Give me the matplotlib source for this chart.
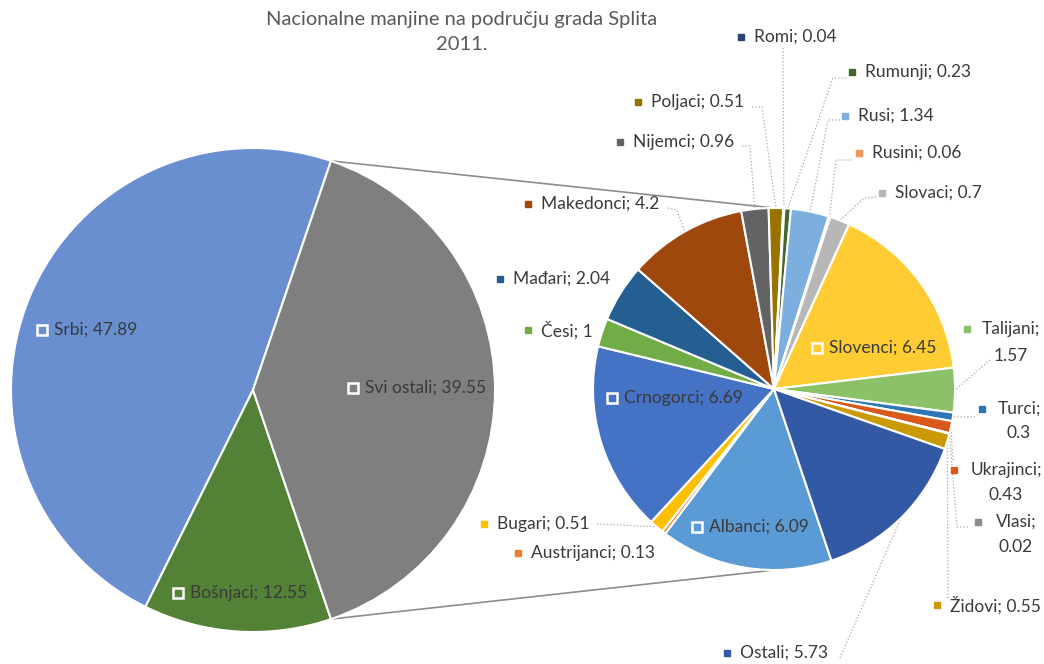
import numpy as np
import matplotlib
matplotlib.use('Agg')
import matplotlib.pyplot as plt

plt.rcParams['font.family'] = ['Lato', 'DejaVu Sans']

# main pie
names1 = ['Srbi', 'Bošnjaci', 'Svi ostali']
vals1 = [47.89, 12.55, 39.55]
colors1 = ['#6A8FD0', '#538135', '#7F7F7F']

# second pie (breakdown of "Svi ostali")
names2 = ['Albanci', 'Austrijanci', 'Bugari', 'Crnogorci', 'Česi', 'Mađari',
          'Makedonci', 'Nijemci', 'Poljaci', 'Romi', 'Rumunji', 'Rusi',
          'Rusini', 'Slovaci', 'Slovenci', 'Talijani', 'Turci', 'Ukrajinci',
          'Vlasi', 'Židovi', 'Ostali']
vals2 = [6.09, 0.13, 0.51, 6.69, 1, 2.04, 4.2, 0.96, 0.51, 0.04, 0.23, 1.34,
         0.06, 0.7, 6.45, 1.57, 0.3, 0.43, 0.02, 0.55, 5.73]
colors2 = ['#5B9BD5', '#ED7D31', '#FFC000', '#4472C4', '#70AD47', '#255E91',
           '#9E480E', '#636363', '#997300', '#264478', '#43682B', '#7CAFDD',
           '#F1975A', '#B7B7B7', '#FFCD33', '#8CC168', '#2E75B6', '#D9591C',
           '#8C8C8C', '#C99A06', '#3358A4']

W, H = 1044, 664


def Y(y):
    return H - y


fig = plt.figure(figsize=(W / 100, H / 100), dpi=100)
ax = fig.add_axes([0, 0, 1, 1])

c1, r1 = (253, Y(390)), 242
c2, r2 = (774, Y(389)), 181
wp = dict(edgecolor='white', linewidth=1.5)

start1 = vals1[2] / sum(vals1) * 180
w1, _ = ax.pie(vals1, colors=colors1, center=c1, radius=r1,
               startangle=start1, counterclock=True, wedgeprops=wp, frame=True)
w2, _ = ax.pie(vals2, colors=colors2, center=c2, radius=r2,
               startangle=-71.5, counterclock=False, wedgeprops=wp, frame=True)

ax.set_xlim(0, W)
ax.set_ylim(0, H)
ax.axis('off')

# connector lines between the pies
a_top = np.radians(w1[2].theta2)
a_bot = np.radians(w1[2].theta1)
ax.plot([c1[0] + r1 * np.cos(a_top), c2[0]], [c1[1] + r1 * np.sin(a_top), c2[1] + r2],
        color='#8C8C8C', lw=1.2, zorder=0)
ax.plot([c1[0] + r1 * np.cos(a_bot), c2[0]], [c1[1] + r1 * np.sin(a_bot), c2[1] - r2],
        color='#8C8C8C', lw=1.2, zorder=0)

txt = '#3A3A3A'
fs = 12.5


def label_text(name, val):
    return f'{name}; {val:g}'


# labels inside slices (square key with white border)
inner = {
    'Srbi': (42, 330), 'Bošnjaci': (178, 593), 'Svi ostali': (353, 388),
    'Slovenci': (817, 348), 'Crnogorci': (612, 398), 'Albanci': (697, 527),
}
for name, (x, y) in inner.items():
    if name in names1:
        i = names1.index(name)
        val, col = vals1[i], colors1[i]
    else:
        i = names2.index(name)
        val, col = vals2[i], colors2[i]
    ax.plot([x], [Y(y)], marker='s', ms=7, mfc=col, mec='white', mew=1.8, ls='none')
    ax.text(x + 12, Y(y), label_text(name, val), ha='left', va='center',
            fontsize=fs, color=txt)

# outside labels: square x, y
outer = {
    'Romi': (741, 37), 'Rumunji': (852, 72), 'Poljaci': (638, 102),
    'Rusi': (845, 116), 'Nijemci': (620, 142), 'Rusini': (859, 153),
    'Slovaci': (882, 193), 'Makedonci': (528, 204), 'Mađari': (500, 279),
    'Česi': (528, 330), 'Židovi': (937, 605), 'Ostali': (727, 653),
    'Bugari': (484, 524), 'Austrijanci': (518, 553),
}
for name, (x, y) in outer.items():
    i = names2.index(name)
    ax.plot([x], [Y(y)], marker='s', ms=4.3, color=colors2[i], ls='none')
    ax.text(x + 13, Y(y), label_text(name, vals2[i]), ha='left', va='center',
            fontsize=fs, color=txt)

# two-line labels on the right: square x, line1 y, text centre x, line2 y
twoline = {
    'Talijani': (967, 329, 1011, 356), 'Turci': (982, 409, 1019, 433),
    'Ukrajinci': (954, 470, 1006, 495), 'Vlasi': (978, 522, 1016, 547),
}
for name, (x, y1, xc, y2) in twoline.items():
    i = names2.index(name)
    ax.plot([x], [Y(y1)], marker='s', ms=4.3, color=colors2[i], ls='none')
    ax.text(xc, Y(y1), f'{name};', ha='center', va='center', fontsize=fs, color=txt)
    ax.text(xc, Y(y2), f'{vals2[i]:g}', ha='center', va='center', fontsize=fs, color=txt)

# leader lines: start points near the label, end at the slice edge
leaders = {
    'Romi': [(783, 48)], 'Rumunji': [(846, 78), (833, 78)],
    'Poljaci': [(752, 107), (762, 107)], 'Rusi': [(840, 120), (828, 120)],
    'Nijemci': [(742, 146), (750, 146)], 'Rusini': [(852, 160), (836, 160)],
    'Slovaci': [(876, 197), (864, 198)], 'Makedonci': [(668, 208), (677, 210)],
    'Talijani': [(990, 360)], 'Turci': [(975, 417)], 'Ukrajinci': [(953, 460)],
    'Vlasi': [(968, 527), (957, 527)], 'Židovi': [(948, 598)],
    'Ostali': [(840, 658)], 'Bugari': [(597, 524)],
}
for name, pts in leaders.items():
    w = w2[names2.index(name)]
    mid = np.radians((w.theta1 + w.theta2) / 2)
    ex, ey = c2[0] + r2 * np.cos(mid), c2[1] + r2 * np.sin(mid)
    xs = [p[0] for p in pts] + [ex]
    ys = [Y(p[1]) for p in pts] + [ey]
    ax.plot(xs, ys, color='#A6A6A6', lw=0.9, ls=':', zorder=0)

ax.text(462, Y(20), 'Nacionalne manjine na području grada Splita', ha='center',
        va='center', fontsize=14.5, color='#595959')
ax.text(462, Y(45), '2011.', ha='center', va='center', fontsize=14.5, color='#595959')

fig.savefig('out.png', dpi=100, facecolor='white')
